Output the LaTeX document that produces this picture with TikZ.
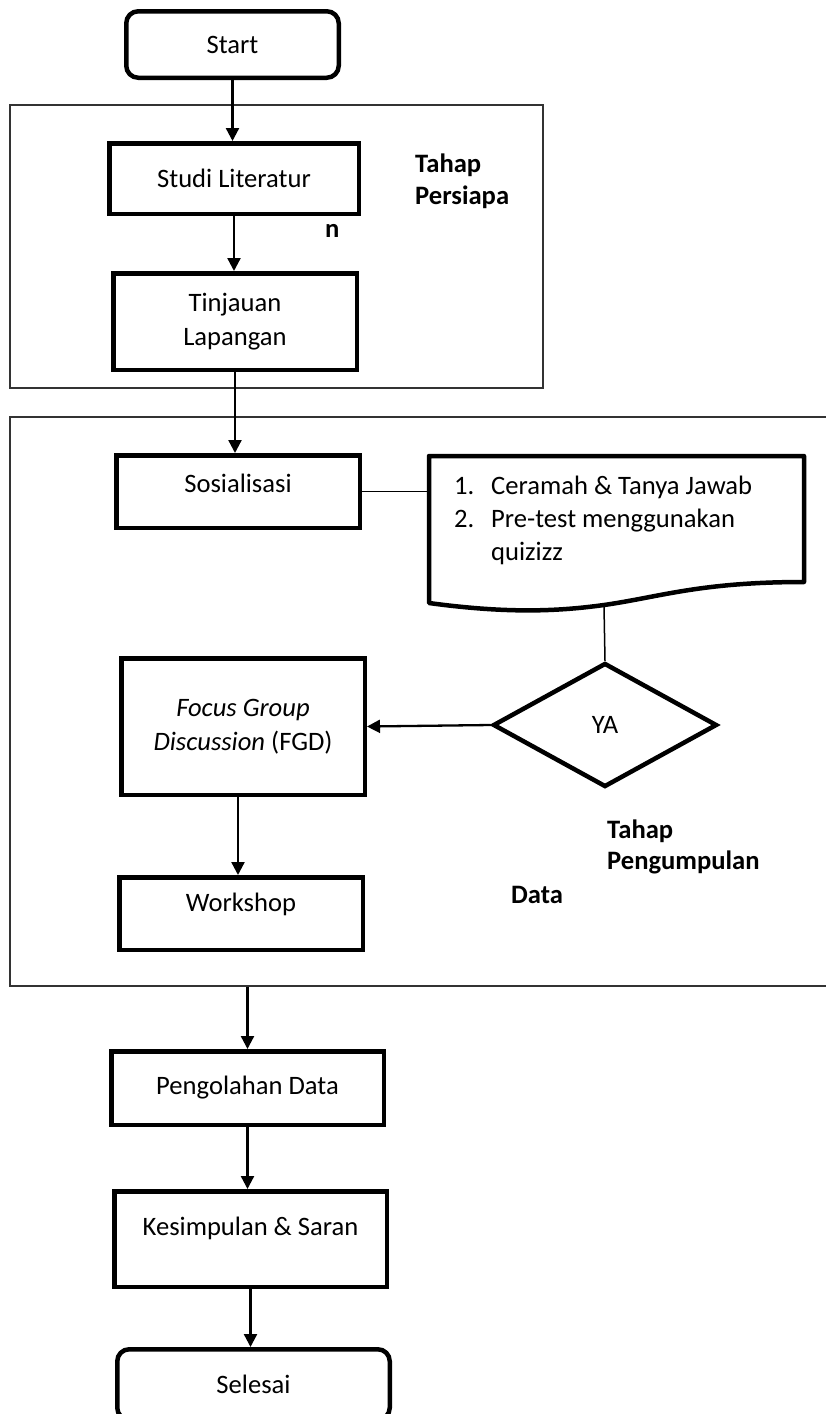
\documentclass[tikz,border=0pt]{standalone}
\usepackage{fontspec}
\setmainfont{Carlito}
\usepackage{tikz}
\usetikzlibrary{shapes.geometric, arrows.meta, positioning, calc}
\newcommand{\flowfont}{\fontsize{26.6}{34}\selectfont}
\newcommand{\listfont}{\fontsize{26.6}{33}\selectfont}
\newcommand{\stagefont}{\fontsize{26.6}{31.5}\selectfont\bfseries}

\begin{document}
\begin{tikzpicture}[
    x=1pt, y=-1pt,
    box/.style={rectangle, draw, line width=4.5pt, minimum width=243.5pt, minimum height=72.5pt, align=center, font=\flowfont, inner sep=0pt},
    term/.style={box, rounded corners=12pt},
    raised/.style={text depth=#1},
    decision/.style={diamond, draw, line width=4.5pt, minimum width=224pt, minimum height=124pt, aspect=1.8, inner sep=0pt, font=\flowfont},
    group/.style={rectangle, draw=black!80, line width=1.3pt, inner sep=0pt},
    stage/.style={align=left, font=\stagefont, inner sep=0pt, anchor=west},
    arr/.style={-{Triangle[length=13pt, width=13pt]}, line width=2.3pt},
    link/.style={line width=1.5pt}
]
    \fill[white] (0,0) rectangle (825,1414);
    \useasboundingbox (0,0) rectangle (825,1414);

    % phase frames
    \node (persiapan) [group, minimum width=533pt, minimum height=283pt] at (276.5,246.5) {};
    \node (pengumpulan) [group, minimum width=820pt, minimum height=569pt] at (420,701.5) {};

    \node (start) [term, minimum width=212.5pt, minimum height=66.5pt] at (232.5,44.5) {Start};
    \node (studi) [box, minimum width=249.5pt, minimum height=70.5pt] at (234,178.5) {Studi Literatur};
    \node (tinjauan) [box, minimum height=96.5pt] at (235,321.5) {Tinjauan\\Lapangan};
    \node (sosial) [box, raised=17pt] at (238,491.5) {Sosialisasi};
    \node (fgd) [box, minimum height=136.5pt] at (243,726.5) {\textit{Focus Group}\\\textit{Discussion} (FGD)};
    \node (workshop) [box, raised=22pt] at (241,913.5) {Workshop};
    \node (pengolahan) [box, minimum width=272.5pt, minimum height=73.5pt] at (247.5,1088) {Pengolahan Data};
    \node (kesimpulan) [box, minimum width=272.5pt, minimum height=95.5pt, raised=25pt] at (250.5,1239) {Kesimpulan \& Saran};
    \node (selesai) [term, minimum width=272.5pt, minimum height=70.5pt] at (253.5,1384.5) {Selesai};

    % document shape
    \draw[line width=4.5pt, line join=round] (429,456) -- (804,456) -- (804,582)
        .. controls (700,582) and (660,597) .. (604,605)
        .. controls (560,611) and (510,614) .. (429,603) -- cycle;
    \coordinate (docw) at (429,491.5);
    \coordinate (docs) at (604,606);
    \node (metode) [anchor=north west, align=left, font=\listfont, inner sep=0pt] at (454,476)
        {\makebox[37pt][l]{1.}Ceramah \& Tanya Jawab\\\makebox[37pt][l]{2.}Pre-test menggunakan\\\hspace*{37pt}quizizz};

    \node (ya) [decision] at (605,725) {YA};

    % phase labels
    \node (persiapanlbl) [stage] at (415,181.5) {Tahap\\Persiapa};
    \node (persiapann) [stage] at (325,231) {n};
    \node (pengumpulanlbl) [stage] at (607,847) {Tahap\\Pengumpulan};
    \node (datalbl) [stage] at (511,895) {Data};

    \draw[arr] (start.south) -- (start.south |- studi.north);
    \draw[arr] (studi.south) -- (studi.south |- tinjauan.north);
    \draw[arr] (tinjauan.south) -- (tinjauan.south |- sosial.north);
    \draw[link] (sosial.east) -- (docw);
    \draw[link] (docs) -- (ya.north);
    \draw[arr] (ya.west) -- (fgd.east);
    \draw[arr] ([xshift=-5pt]fgd.south) -- ([xshift=-5pt]fgd.south |- workshop.north);
    \draw[arr] (pengolahan.north |- pengumpulan.south) -- (pengolahan.north);
    \draw[arr] (pengolahan.south) -- (pengolahan.south |- kesimpulan.north);
    \draw[arr] (kesimpulan.south) -- (kesimpulan.south |- selesai.north);
\end{tikzpicture}
\end{document}
